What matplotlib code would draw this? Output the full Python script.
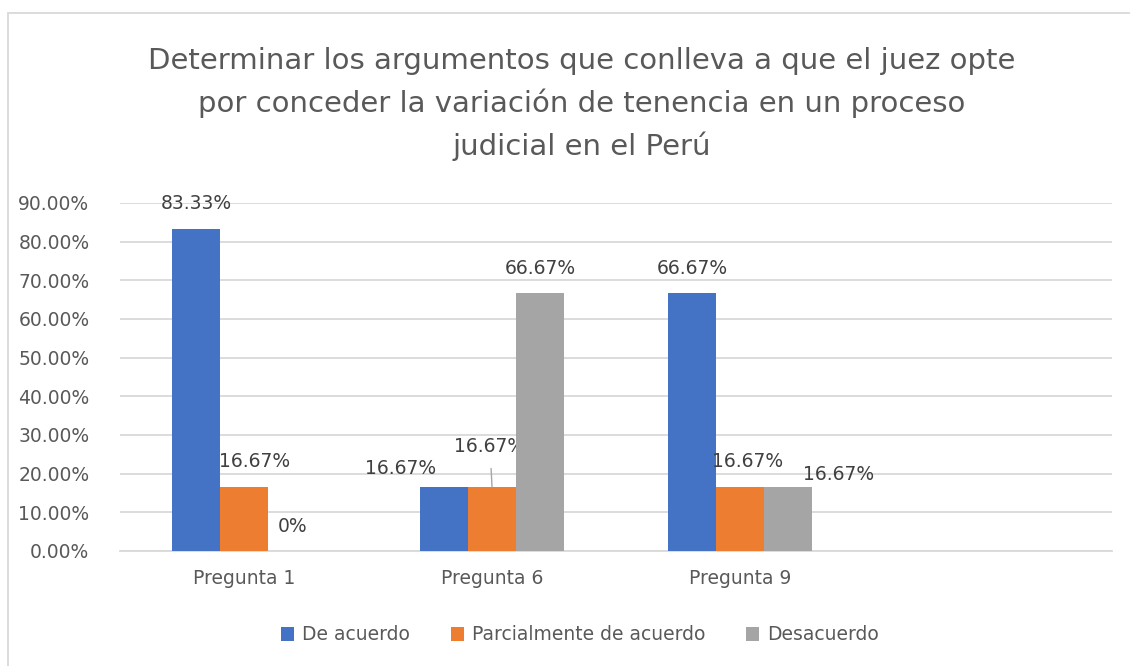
import matplotlib.pyplot as plt
import numpy as np
from matplotlib.patches import Patch, Rectangle

categories = ["Pregunta 1", "Pregunta 6", "Pregunta 9", ""]
series = ["De acuerdo", "Parcialmente de acuerdo", "Desacuerdo"]
de_acuerdo = [0.8333, 0.1667, 0.6667]
parcial = [0.1667, 0.1667, 0.1667]
desacuerdo = [0.0, 0.6667, 0.1667]
labels = [["83.33%", "16.67%", "66.67%"],
          ["16.67%", "16.67%", "16.67%"],
          ["0%", "66.67%", "16.67%"]]
colors = ["#4472C4", "#ED7D31", "#A5A5A5"]

# label nudges in pixels (dx, dy) where excel moved them around
nudges = [[(0, 0), (-43, -7), (0, 0)],
          [(11, 0), (-2, 15), (8, 0)],
          [(0, 0), (0, 0), (50, -13)]]

txt = "#595959"
plt.rcParams['font.family'] = ['DejaVu Sans']

fig = plt.figure(figsize=(11.3, 6.66), dpi=100)
W, H = 1130, 666
ax = fig.add_axes([120 / W, (H - 551) / H, (1112 - 120) / W, (551 - 203) / H])

x = np.arange(len(categories))
width = 0.194
values = [de_acuerdo, parcial, desacuerdo]
px2pt = 72 / 100

for i, vals in enumerate(values):
    xs = x[:len(vals)] + (i - 1) * width
    ax.bar(xs, vals, width, color=colors[i], zorder=3, label=series[i])
    for j, v in enumerate(vals):
        dx, dy = nudges[i][j]
        if i == 1 and j == 1:
            ax.annotate(labels[i][j], xy=(xs[j], v), xytext=(dx * px2pt, (25 + dy) * px2pt),
                        textcoords="offset points", ha="center", va="center",
                        fontsize=13.5, color="#404040",
                        arrowprops=dict(arrowstyle="-", color="#A6A6A6", lw=1,
                                        shrinkA=7, shrinkB=0))
        else:
            ax.annotate(labels[i][j], xy=(xs[j], v), xytext=(dx * px2pt, (25 + dy) * px2pt),
                        textcoords="offset points", ha="center", va="center",
                        fontsize=13.5, color="#404040")

ax.set_xlim(-0.5, len(categories) - 0.5)
ax.set_ylim(0, 0.9)
ax.set_yticks(np.arange(0, 0.91, 0.1))
ax.set_yticklabels([f"{t * 100:.2f}%" for t in np.arange(0, 0.91, 0.1)])
ax.set_xticks(x)
ax.set_xticklabels(categories)
ax.tick_params(axis="both", length=0, labelsize=13.5, colors=txt)
ax.tick_params(axis="x", pad=13)
ax.tick_params(axis="y", pad=22)
ax.grid(axis="y", color="#D9D9D9", lw=1.3, zorder=0)
for s in ["top", "right", "left"]:
    ax.spines[s].set_visible(False)
ax.spines["bottom"].set_color("#D9D9D9")
ax.spines["bottom"].set_linewidth(1.3)

fig.text(582 / W, 1 - 104 / H,
         "Determinar los argumentos que conlleva a que el juez opte\n"
         "por conceder la variación de tenencia en un proceso\n"
         "judicial en el Perú",
         ha="center", va="center", fontsize=21, color=txt, linespacing=1.58)

handles = [Patch(facecolor=c) for c in colors]
fig.legend(handles, series, loc="center", bbox_to_anchor=(580 / W, 1 - 635 / H),
           ncol=3, frameon=False, fontsize=13.5, labelcolor=txt,
           handlelength=0.7, handleheight=0.7, handletextpad=0.4, columnspacing=2.2)

fig.patches.append(Rectangle((8 / W, -0.01), 1.1, 1 - 13 / H + 0.01, transform=fig.transFigure,
                             fill=False, edgecolor="#D9D9D9", lw=1.3))

fig.savefig("out.png", dpi=100)
